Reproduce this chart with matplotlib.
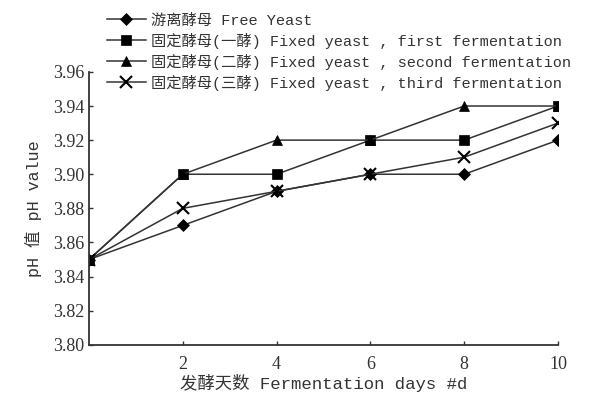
import matplotlib
matplotlib.use("Agg")
import matplotlib.pyplot as plt

days = [0, 2, 4, 6, 8, 10]
free_yeast = [3.85, 3.87, 3.89, 3.90, 3.90, 3.92]
fixed_first = [3.85, 3.90, 3.90, 3.92, 3.92, 3.94]
fixed_second = [3.85, 3.90, 3.92, 3.92, 3.94, 3.94]
fixed_third = [3.85, 3.88, 3.89, 3.90, 3.91, 3.93]
labels = ["游离酵母 Free Yeast",
          "固定酵母(一酵) Fixed yeast , first fermentation",
          "固定酵母(二酵) Fixed yeast , second fermentation",
          "固定酵母(三酵) Fixed yeast , third fermentation"]
xticks = [2, 4, 6, 8, 10]
yticks = [3.80, 3.82, 3.84, 3.86, 3.88, 3.90, 3.92, 3.94, 3.96]

fam = ['Liberation Serif', 'Noto Sans CJK SC']
mono = ['Liberation Mono', 'Noto Sans CJK SC']
plt.rcParams['font.family'] = fam

fig = plt.figure(figsize=(5.93, 3.95), dpi=100)
ax = fig.add_axes([0.150, 0.127, 0.791, 0.691])

series = [free_yeast, fixed_first, fixed_second, fixed_third]
markers = ['D', 's', '^', 'x']
sizes = [6, 7, 7, 8]
for vals, m, s, lab in zip(series, markers, sizes, labels):
    ax.plot(days, vals, color='#333333', lw=1.1, marker=m, ms=s,
            markeredgewidth=1.5 if m == 'x' else 0.5,
            mfc='black', mec='black', label=lab)

ax.set_xlim(0, 10)
ax.set_ylim(3.80, 3.96)
ax.set_xticks(xticks)
ax.set_yticks(yticks)
ax.set_yticklabels([f"{v:.2f}" for v in yticks], fontsize=13, color='#333333')
ax.set_xticklabels([str(v) for v in xticks], fontsize=13, color='#333333')
ax.tick_params(direction='in', length=3, width=1, color='#333333')
ax.tick_params(axis='x', pad=8)
for s in ['top', 'right']:
    ax.spines[s].set_visible(False)
for s in ['left', 'bottom']:
    ax.spines[s].set_linewidth(1.3)
    ax.spines[s].set_color('#333333')

ax.set_xlabel("发酵天数 Fermentation days #d", fontsize=12.5, family=mono,
              color='#333333', labelpad=1)
ax.set_ylabel("pH 值 pH value", fontsize=12, family=mono,
              color='#333333', labelpad=8)

leg = fig.legend(loc='upper left', bbox_to_anchor=(0.163, 0.993), frameon=False,
                 prop={'family': mono, 'size': 11}, handlelength=2.5,
                 labelspacing=0.33, handletextpad=0.35, borderpad=0.2)
for t in leg.get_texts():
    t.set_color('#333333')

fig.savefig("out.png", dpi=100)
